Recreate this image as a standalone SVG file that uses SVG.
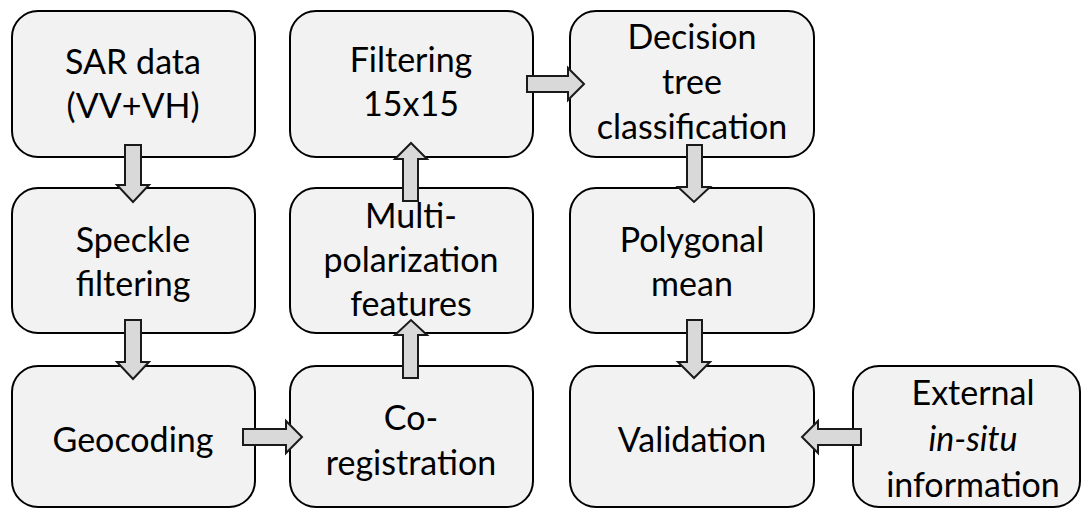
<svg xmlns="http://www.w3.org/2000/svg" width="1086" height="509" viewBox="0 0 1086 509">
<style>
.box{fill:#f2f2f2;stroke:#000;stroke-width:2}
.arr{fill:#d9d9d9;stroke:#1a1a1a;stroke-width:2;stroke-linejoin:miter}
text{font-family:Lato,"Liberation Sans",sans-serif;font-size:34px;fill:#000;text-anchor:middle}
.it{font-style:italic}
</style>
<rect width="1086" height="509" fill="#fff"/>
<g id="n-sar"><rect class="box" x="12" y="11" width="243" height="146" rx="26"/><text x="133" y="74">SAR data</text><text x="133" y="118">(VV+VH)</text></g>
<g id="n-speckle"><rect class="box" x="12" y="188" width="243" height="145" rx="26"/><text x="133" y="252">Speckle</text><text x="133" y="296">filtering</text></g>
<g id="n-geocoding"><rect class="box" x="12" y="366" width="243" height="141" rx="26"/><text x="133" y="452">Geocoding</text></g>
<g id="n-filter"><rect class="box" x="290" y="11" width="243" height="146" rx="26"/><text x="411" y="72">Filtering</text><text x="411" y="116">15x15</text></g>
<g id="n-multi"><rect class="box" x="290" y="188" width="243" height="145" rx="26"/><text x="411" y="228">Multi-</text><text x="411" y="272">polarization</text><text x="411" y="316">features</text></g>
<g id="n-coreg"><rect class="box" x="290" y="366" width="243" height="141" rx="26"/><text x="411" y="430">Co-</text><text x="411" y="475">registration</text></g>
<g id="n-decision"><rect class="box" x="570" y="11" width="244" height="146" rx="26"/><text x="692" y="49">Decision</text><text x="692" y="94">tree</text><text x="692" y="139">classification</text></g>
<g id="n-polygonal"><rect class="box" x="570" y="188" width="244" height="145" rx="26"/><text x="692" y="252">Polygonal</text><text x="692" y="296">mean</text></g>
<g id="n-validation"><rect class="box" x="570" y="366" width="244" height="141" rx="26"/><text x="692" y="452">Validation</text></g>
<g id="n-external"><rect class="box" x="853" y="366" width="227" height="141" rx="26"/><text x="973" y="405">External</text><text class="it" x="973" y="451">in-situ</text><text x="973" y="497">information</text></g>
<g id="connectors">
<path class="arr" d="M125,145 H141 V185 H149 L133,202 L117,185 H125 Z"/>
<path class="arr" d="M125,320 H141 V362 H149 L133,379 L117,362 H125 Z"/>
<path class="arr" d="M243,429 V445 H286 V453 L302,437 L286,421 V429 Z"/>
<path class="arr" d="M403,378 H418 V335 H427 L411,320 L395,335 H403 Z"/>
<path class="arr" d="M403,201 H418 V159 H427 L411,143 L395,159 H403 Z"/>
<path class="arr" d="M527,76 V92 H568 V100 L584,84 L568,68 V76 Z"/>
<path class="arr" d="M687,145 H702 V187 H710 L694,202 L678,187 H687 Z"/>
<path class="arr" d="M687,320 H702 V362 H710 L694,378 L678,362 H687 Z"/>
<path class="arr" d="M861,429 V445 H818 V453 L802,437 L818,421 V429 Z"/>
</g>
</svg>
